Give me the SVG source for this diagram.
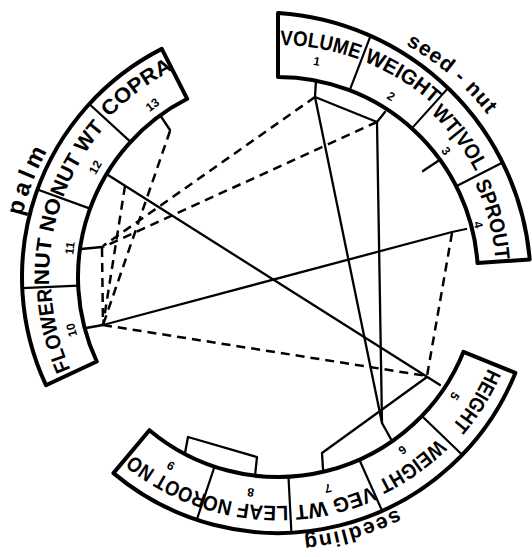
<svg xmlns="http://www.w3.org/2000/svg" xmlns:xlink="http://www.w3.org/1999/xlink" width="532" height="557" viewBox="0 0 532 557">
<style>
.ring{fill:#fff;stroke:#000;stroke-width:4;stroke-linejoin:round}
.div{stroke:#000;stroke-width:2.2;fill:none}
.lbl{font-family:"Liberation Sans",Arial,sans-serif;font-weight:bold;font-size:21px;fill:#000}
.num{font-family:"Liberation Sans",Arial,sans-serif;font-weight:bold;font-size:12px;fill:#000}
.grp{font-family:"Liberation Sans",Arial,sans-serif;font-weight:bold;font-size:21px;fill:#000}
.s{stroke:#000;stroke-width:2.3;fill:none;stroke-linejoin:round;stroke-linecap:round}
.d{stroke:#000;stroke-width:2.5;fill:none;stroke-dasharray:9 6}
</style>
<defs>
<path id="r203" d="M147.51,121.49 A203,203 0 0 1 408.49,121.49"/>
<path id="r206" d="M145.59,119.2 A206,206 0 0 1 410.41,119.2"/>
<path id="r209" d="M143.66,116.9 A209,209 0 0 1 412.34,116.9"/>
<path id="r213" d="M141.09,113.83 A213,213 0 0 1 414.91,113.83"/>
<path id="r215" d="M139.8,112.3 A215,215 0 0 1 416.2,112.3"/>
<path id="r218" d="M137.87,110 A218,218 0 0 1 418.13,110"/>
<path id="r224" d="M134.02,105.41 A224,224 0 0 1 421.98,105.41"/>
<path id="r227" d="M132.09,103.11 A227,227 0 0 1 423.91,103.11"/>
<path id="r229" d="M130.8,101.58 A229,229 0 0 1 425.2,101.58"/>
<path id="r232" d="M128.87,99.28 A232,232 0 0 1 427.13,99.28"/>
<path id="r261" d="M110.23,77.06 A261,261 0 0 1 445.77,77.06"/>
<path id="r263" d="M108.95,75.53 A263,263 0 0 1 447.05,75.53"/>
<path id="r265" d="M107.66,74 A265,265 0 0 1 448.34,74"/>
</defs>

<g id="seed-nut">
<path class="ring" d="M278,13 A270.2,270.2 0 0 1 529.7,259.4 L477.51,263.05 A200,200 0 0 0 278,77 Z"/>
<path class="div" d="M349.67,90.28 L370.57,35.85 M411.83,128.37 L448.07,88.12 M456.2,186.2 L502.62,162.55"/>
<text class="grp" transform="rotate(40.5 278 277)"><textPath href="#r265" startOffset="50%" text-anchor="middle" textLength="108" lengthAdjust="spacing">seed - nut</textPath></text>
</g>
<g id="n1"><text class="lbl" transform="rotate(10.4 278 277)"><textPath href="#r232" startOffset="50%" text-anchor="middle" textLength="80" lengthAdjust="spacingAndGlyphs">VOLUME</textPath></text>
<text class="num" transform="rotate(10.2 278 277)"><textPath href="#r215" startOffset="50%" text-anchor="middle">1</textPath></text></g>
<g id="n2"><text class="lbl" transform="rotate(31.8 278 277)"><textPath href="#r232" startOffset="50%" text-anchor="middle" textLength="82" lengthAdjust="spacingAndGlyphs">WEIGHT</textPath></text>
<text class="num" transform="rotate(32 278 277)"><textPath href="#r209" startOffset="50%" text-anchor="middle">2</textPath></text></g>
<g id="n3"><text class="lbl" transform="rotate(52.5 278 277)"><textPath href="#r224" startOffset="50%" text-anchor="middle" textLength="74" lengthAdjust="spacingAndGlyphs">WT|VOL</textPath></text>
<text class="num" transform="rotate(53.1 278 277)"><textPath href="#r206" startOffset="50%" text-anchor="middle">3</textPath></text></g>
<g id="n4"><text class="lbl" transform="rotate(75 278 277)"><textPath href="#r218" startOffset="50%" text-anchor="middle" textLength="80" lengthAdjust="spacingAndGlyphs">SPROUT</textPath></text>
<text class="num" transform="rotate(75.4 278 277)"><textPath href="#r203" startOffset="50%" text-anchor="middle">4</textPath></text></g>

<g id="seedling">
<path class="ring" d="M515.36,372.9 A256,256 0 0 1 113.45,473.11 L149.44,430.21 A200,200 0 0 0 463.44,351.92 Z"/>
<path class="div" d="M421.87,415.93 L462.15,454.83 M359.35,459.71 L382.13,510.87 M288.47,476.73 L291.4,532.65 M214.54,466.66 L196.77,519.77"/>
<text class="grp" transform="rotate(163.6 278 277)"><textPath href="#r261" startOffset="50%" text-anchor="middle" textLength="98" lengthAdjust="spacing">seedling</textPath></text>
</g>
<g id="n5"><text class="lbl" transform="rotate(122 278 277)"><textPath href="#r229" startOffset="50%" text-anchor="middle" textLength="68" lengthAdjust="spacingAndGlyphs">HEIGHT</textPath></text>
<text class="num" transform="rotate(124 278 277)"><textPath href="#r209" startOffset="50%" text-anchor="middle">5</textPath></text></g>
<g id="n6"><text class="lbl" transform="rotate(144.7 278 277)"><textPath href="#r227" startOffset="50%" text-anchor="middle" textLength="74" lengthAdjust="spacingAndGlyphs">WEIGHT</textPath></text>
<text class="num" transform="rotate(144.3 278 277)"><textPath href="#r209" startOffset="50%" text-anchor="middle">6</textPath></text></g>
<g id="n7"><text class="lbl" transform="rotate(165.8 278 277)"><textPath href="#r229" startOffset="50%" text-anchor="middle" textLength="80" lengthAdjust="spacingAndGlyphs">VEG WT</textPath></text>
<text class="num" transform="rotate(166.7 278 277)"><textPath href="#r213" startOffset="50%" text-anchor="middle">7</textPath></text></g>
<g id="n8"><text class="lbl" transform="rotate(188 278 277)"><textPath href="#r229" startOffset="50%" text-anchor="middle" textLength="84" lengthAdjust="spacingAndGlyphs">LEAF NO</textPath></text>
<text class="num" transform="rotate(187.2 278 277)"><textPath href="#r213" startOffset="50%" text-anchor="middle">8</textPath></text></g>
<g id="n9"><text class="lbl" transform="rotate(208.6 278 277)"><textPath href="#r229" startOffset="50%" text-anchor="middle" textLength="84" lengthAdjust="spacingAndGlyphs">ROOT NO</textPath></text>
<text class="num" transform="rotate(209.6 278 277)"><textPath href="#r213" startOffset="50%" text-anchor="middle">9</textPath></text></g>

<g id="palm">
<path class="ring" d="M45.98,385.19 A256,256 0 0 1 161.78,48.9 L187.2,98.8 A200,200 0 0 0 96.74,361.52 Z"/>
<path class="div" d="M78.19,285.72 L22.24,288.17 M90.06,208.6 L37.44,189.44 M130.54,141.88 L89.26,104.05"/>
<text class="grp" style="font-size:24px" transform="rotate(291 278 277)"><textPath href="#r263" startOffset="50%" text-anchor="middle" textLength="70" lengthAdjust="spacing">palm</textPath></text>
</g>
<g id="n10"><text class="lbl" transform="rotate(256.6 278 277)"><textPath href="#r227" startOffset="50%" text-anchor="middle" textLength="84" lengthAdjust="spacingAndGlyphs">FLOWER</textPath></text>
<text class="num" transform="rotate(255.6 278 277)"><textPath href="#r209" startOffset="50%" text-anchor="middle">10</textPath></text></g>
<g id="n11"><text class="lbl" transform="rotate(278.7 278 277)"><textPath href="#r229" startOffset="50%" text-anchor="middle" textLength="86" lengthAdjust="spacingAndGlyphs">NUT NO</textPath></text>
<text class="num" transform="rotate(277.9 278 277)"><textPath href="#r206" startOffset="50%" text-anchor="middle">11</textPath></text></g>
<g id="n12"><text class="lbl" transform="rotate(300.5 278 277)"><textPath href="#r229" startOffset="50%" text-anchor="middle" textLength="82" lengthAdjust="spacingAndGlyphs">NUT WT</textPath></text>
<text class="num" transform="rotate(301 278 277)"><textPath href="#r209" startOffset="50%" text-anchor="middle">12</textPath></text></g>
<g id="n13"><text class="lbl" transform="rotate(323.3 278 277)"><textPath href="#r232" startOffset="50%" text-anchor="middle" textLength="80" lengthAdjust="spacingAndGlyphs">COPRA</textPath></text>
<text class="num" transform="rotate(323.9 278 277)"><textPath href="#r209" startOffset="50%" text-anchor="middle">13</textPath></text></g>

<g id="connectors">
<path class="s" d="M316,80 L315,97 L377,122 L385,112"/>
<path class="s" d="M315,97 L382,423 L377,122"/>
<path class="s" d="M382,423 L392,441"/>
<path class="s" d="M423,171 L438,161"/>
<path class="s" d="M466,229 L452,232 L103,325 L86,328"/>
<path class="s" d="M108,175 L440,385"/>
<path class="s" d="M323,469 L322,453 L427,377"/>
<path class="s" d="M185,453 L188,437 L257,457 L255,476"/>
<path class="s" d="M81,249 L102,247"/>
<path class="s" d="M160,115 L170,130"/>
<path class="d" d="M315,97 L103,246"/>
<path class="d" d="M377,122 L103,247"/>
<path class="d" d="M452,233 L427,376"/>
<path class="d" d="M103,325 L427,376"/>
<path class="d" d="M102,248 L103,325"/>
<path class="d" d="M125,186 L103,325"/>
<path class="d" d="M170,131 L103,325"/>
</g>
</svg>
